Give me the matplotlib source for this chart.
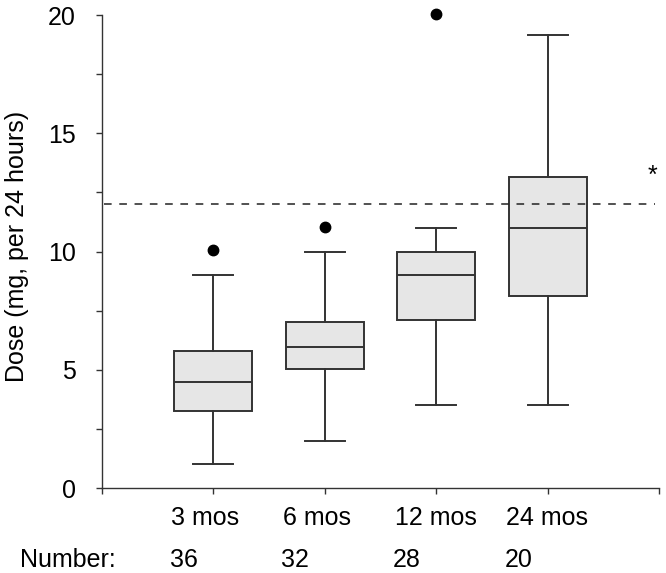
import numpy as np
import matplotlib.pyplot as plt
import matplotlib.transforms as mtransforms

plt.rcParams['font.family'] = ['Liberation Sans', 'DejaVu Sans']

groups = ['3 mos', '6 mos', '12 mos', '24 mos']
numbers = [36, 32, 28, 20]
whislo = [1.0, 2.0, 3.5, 3.5]
q1 = [3.27, 5.03, 7.1, 8.12]
med = [4.47, 5.97, 9.0, 10.98]
q3 = [5.78, 7.02, 10.0, 13.16]
whishi = [9.0, 10.0, 11.0, 19.15]
fliers = [[10.05], [11.05], [20.05], []]
ref_dose = 12.0

stats = [dict(label=g, whislo=a, q1=b, med=c, q3=d, whishi=e, fliers=f)
         for g, a, b, c, d, e, f in zip(groups, whislo, q1, med, q3, whishi, fliers)]

fig = plt.figure(figsize=(6.66, 5.73), dpi=100)
ax = fig.add_axes([0.1527, 0.1483, 0.8375, 0.8255])

pos = np.arange(1, len(groups) + 1)
edge = '#333333'
bp = ax.bxp(stats, positions=pos, widths=0.7, capwidths=0.36, patch_artist=True,
            boxprops=dict(facecolor='#e6e6e6', edgecolor=edge, linewidth=1.4),
            medianprops=dict(color=edge, linewidth=1.4),
            whiskerprops=dict(color=edge, linewidth=1.4),
            capprops=dict(color=edge, linewidth=1.4),
            flierprops=dict(marker='o', markerfacecolor='black',
                            markeredgecolor='black', markersize=7.5))
for fl in bp['fliers']:
    fl.set_clip_on(False)

ax.plot([0.02, 4.96], [ref_dose, ref_dose], color='#222222', lw=1.1,
        dashes=(5, 5), clip_on=False)
ax.text(4.94, 13.2, '*', fontsize=18, ha='center', va='center')

ax.set_xlim(0, 5)
ax.set_ylim(0, 20)
ax.set_xticks([0, 1, 2, 3, 4, 5])
ax.set_xticklabels([])
ax.set_yticks([0, 5, 10, 15, 20])
ax.set_yticks(np.arange(0, 20.1, 2.5), minor=True)
ax.tick_params(axis='both', which='both', direction='out', length=4.5,
               width=1, color=edge, labelsize=18)
ax.tick_params(axis='y', pad=14)
for s in ['top', 'right']:
    ax.spines[s].set_visible(False)
for s in ['left', 'bottom']:
    ax.spines[s].set_color(edge)
    ax.spines[s].set_linewidth(1)

fig.text(17 / 666, 1 - 246 / 573, 'Dose (mg, per 24 hours)', fontsize=18,
         rotation=90, ha='center', va='center')

trans = mtransforms.blended_transform_factory(ax.transData, fig.transFigure)
for p, g, n in zip(pos, groups, numbers):
    ax.text(p - 0.375, 1 - 518 / 573, g, transform=trans, fontsize=18,
            ha='left', va='center')
    ax.text(p - 0.39, 1 - 560 / 573, str(n), transform=trans, fontsize=18,
            ha='left', va='center')
fig.text(20 / 666, 1 - 560 / 573, 'Number:', fontsize=18, ha='left', va='center')

fig.savefig('out.png', dpi=100)
